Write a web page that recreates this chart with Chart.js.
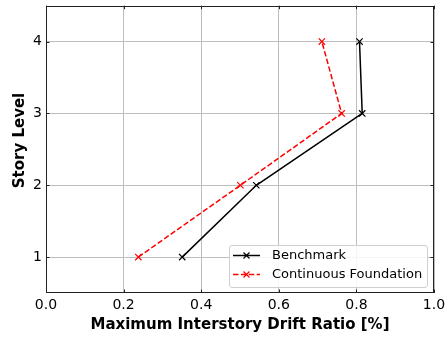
<!DOCTYPE html>
<html>
<head>
<meta charset="utf-8">
<script src="https://cdn.jsdelivr.net/npm/chart.js@4.4.1/dist/chart.umd.min.js"></script>
<style>
  html, body { margin: 0; padding: 0; background: #ffffff; }
  #wrap { width: 445px; height: 337px; position: relative; }
</style>
</head>
<body>
<div id="wrap"><canvas id="chart" width="445" height="337"></canvas></div>
<script>
// Story levels and maximum interstory drift ratio (%) per case
const storyLevels = [1, 2, 3, 4];
const benchmarkDrift = [0.351, 0.542, 0.815, 0.808];
const continuousDrift = [0.238, 0.501, 0.762, 0.711];
const xTicks = [0, 0.2, 0.4, 0.6, 0.8, 1.0];
const yTicks = [1, 2, 3, 4];
const seriesNames = ['Benchmark', 'Continuous Foundation'];
const xTitle = 'Maximum Interstory Drift Ratio [%]';
const yTitle = 'Story Level';

const FONT = 'DejaVu Sans';

function pairs(xs, ys) {
  return xs.map((x, i) => ({ x: x, y: ys[i] }));
}

// Frame, inward tick marks, y title and in-axes legend
const framePlugin = {
  id: 'frame',
  afterDatasetsDraw(chart) {
    const { ctx, chartArea: a, scales } = chart;
    ctx.save();
    // inward ticks
    ctx.strokeStyle = '#222222';
    ctx.lineWidth = 1;
    const tl = 3.5;
    xTicks.forEach(v => {
      const px = Math.round(scales.x.getPixelForValue(v)) + 0.5;
      ctx.beginPath();
      ctx.moveTo(px, a.bottom); ctx.lineTo(px, a.bottom - tl);
      ctx.moveTo(px, a.top); ctx.lineTo(px, a.top + tl);
      ctx.stroke();
    });
    yTicks.forEach(v => {
      const py = Math.round(scales.y.getPixelForValue(v)) + 0.5;
      ctx.beginPath();
      ctx.moveTo(a.left, py); ctx.lineTo(a.left + tl, py);
      ctx.moveTo(a.right, py); ctx.lineTo(a.right - tl, py);
      ctx.stroke();
    });
    // frame
    ctx.strokeStyle = '#222222';
    ctx.lineWidth = 1;
    ctx.strokeRect(Math.round(a.left) + 0.5, Math.round(a.top) + 0.5,
                   Math.round(a.right - a.left) - 1, Math.round(a.bottom - a.top) - 1);

    // y axis title
    ctx.save();
    ctx.translate(20, 140.5);
    ctx.rotate(-Math.PI / 2);
    ctx.font = 'bold 15px "' + FONT + '"';
    ctx.fillStyle = '#000000';
    ctx.textAlign = 'center';
    ctx.textBaseline = 'middle';
    ctx.fillText(yTitle, 0, 0);
    ctx.restore();

    // legend box at lower right
    const bx = 229, by = 245, bw = 198, bh = 42;
    ctx.fillStyle = 'rgba(255,255,255,0.85)';
    ctx.strokeStyle = '#d0d0d0';
    ctx.lineWidth = 1;
    ctx.beginPath();
    if (ctx.roundRect) ctx.roundRect(bx + 0.5, by + 0.5, bw, bh, 2.5);
    else ctx.rect(bx + 0.5, by + 0.5, bw, bh);
    ctx.fill(); ctx.stroke();

    const rows = [
      { name: seriesNames[0], color: '#000000', dash: [] },
      { name: seriesNames[1], color: '#ff0000', dash: [5.5, 2.4] }
    ];
    ctx.font = '13px "' + FONT + '"';
    ctx.textBaseline = 'middle';
    ctx.textAlign = 'left';
    rows.forEach((r, i) => {
      const cy = by + 10.5 + i * 19;
      const x0 = bx + 4, x1 = bx + 31;
      ctx.strokeStyle = r.color;
      ctx.lineWidth = 1.5;
      ctx.setLineDash(r.dash);
      ctx.beginPath(); ctx.moveTo(x0, cy); ctx.lineTo(x1, cy); ctx.stroke();
      ctx.setLineDash([]);
      const mx = (x0 + x1) / 2, m = 3;
      ctx.lineWidth = 1.2;
      ctx.beginPath();
      ctx.moveTo(mx - m, cy - m); ctx.lineTo(mx + m, cy + m);
      ctx.moveTo(mx - m, cy + m); ctx.lineTo(mx + m, cy - m);
      ctx.stroke();
      ctx.fillStyle = '#000000';
      ctx.fillText(r.name, bx + 43, cy + 0.5);
    });
    ctx.restore();
  }
};

new Chart(document.getElementById('chart'), {
  type: 'scatter',
  data: {
    datasets: [
      {
        label: seriesNames[0],
        data: pairs(benchmarkDrift, storyLevels),
        showLine: true,
        borderColor: '#000000',
        backgroundColor: '#000000',
        borderWidth: 1.5,
        pointStyle: 'crossRot',
        pointRadius: 4.5,
        pointBorderWidth: 1.2,
        pointHoverRadius: 4.5
      },
      {
        label: seriesNames[1],
        data: pairs(continuousDrift, storyLevels),
        showLine: true,
        borderColor: '#ff0000',
        backgroundColor: '#ff0000',
        borderWidth: 1.5,
        borderDash: [5.5, 2.4],
        pointStyle: 'crossRot',
        pointRadius: 4.5,
        pointBorderWidth: 1.2,
        pointHoverRadius: 4.5
      }
    ]
  },
  options: {
    responsive: false,
    animation: false,
    devicePixelRatio: 1,
    layout: { padding: { top: 5, right: 11, left: 0, bottom: 0 } },
    plugins: {
      legend: { display: false },
      tooltip: { enabled: false }
    },
    scales: {
      x: {
        type: 'linear',
        min: 0, max: 1.0,
        afterBuildTicks(scale) { scale.ticks = xTicks.map(v => ({ value: v })); },
        afterFit(scale) {
          scale.height = 44;
          scale.paddingLeft = 0; scale.paddingRight = 0;
        },
        border: { display: false },
        grid: { color: '#bdbdbd', lineWidth: 1, drawTicks: false },
        ticks: {
          padding: 4,
          color: '#000000',
          font: { family: FONT, size: 14 },
          callback: v => v.toFixed(1)
        },
        title: {
          display: true,
          text: xTitle,
          color: '#000000',
          font: { family: FONT, size: 15, weight: 'bold' },
          padding: { top: 0, bottom: 3 }
        }
      },
      y: {
        type: 'linear',
        min: 0.5, max: 4.5,
        afterBuildTicks(scale) { scale.ticks = yTicks.map(v => ({ value: v })); },
        afterFit(scale) {
          scale.width = 46;
          scale.paddingTop = 0; scale.paddingBottom = 0;
        },
        border: { display: false },
        grid: { color: '#bdbdbd', lineWidth: 1, drawTicks: false },
        ticks: {
          padding: 4,
          color: '#000000',
          font: { family: FONT, size: 14 },
          callback: v => String(v)
        },
        title: { display: false }
      }
    }
  },
  plugins: [framePlugin]
});
</script>
</body>
</html>
